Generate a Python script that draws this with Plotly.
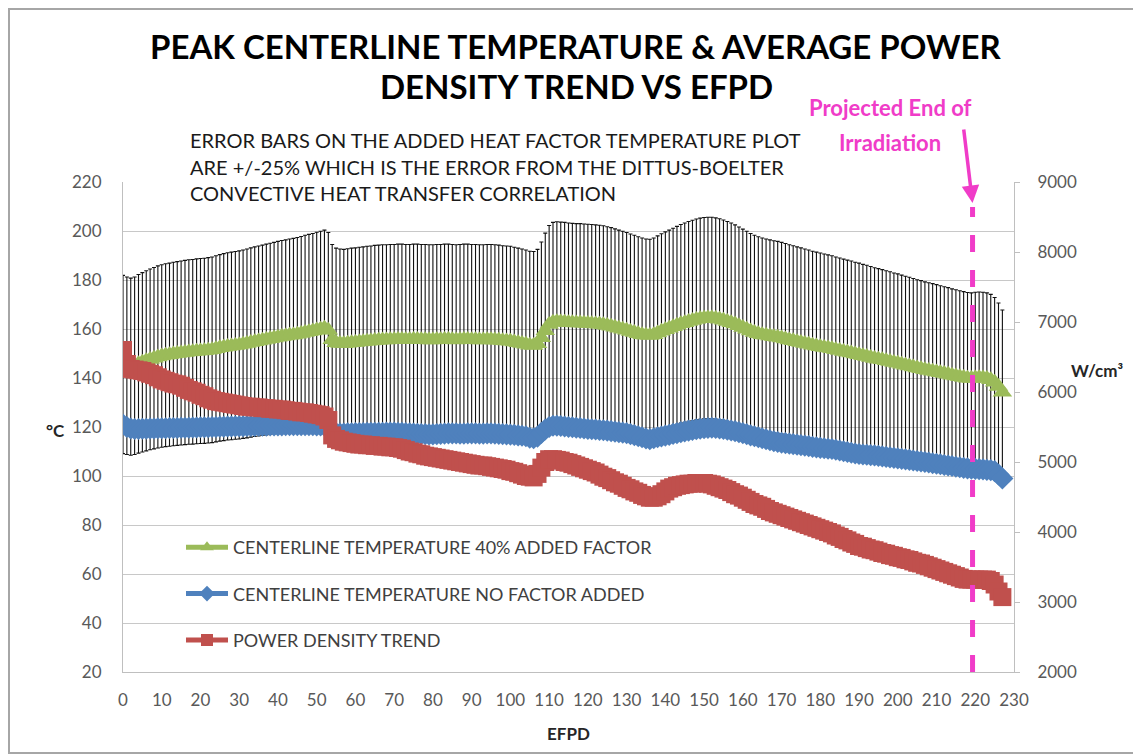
import plotly.graph_objects as go

# EFPD (one point per day)
efpd = list(range(0, 228))

# Centerline temperature with 40% added factor (deg C)
temp_40 = [
    145.5, 145.0, 144.6, 145.0, 145.8, 146.4, 147.0, 147.6, 148.1, 148.6,
    149.0, 149.3, 149.5, 149.8, 150.0, 150.2, 150.4, 150.6, 150.7, 150.9,
    151.0, 151.1, 151.3, 151.5, 151.9, 152.3, 152.6, 152.9, 153.1, 153.3,
    153.5, 153.8, 154.1, 154.5, 154.8, 155.1, 155.4, 155.7, 156.0, 156.3,
    156.6, 156.9, 157.1, 157.4, 157.6, 157.9, 158.2, 158.6, 158.9, 159.2,
    159.6, 159.9, 160.3, 159.5, 155.6, 154.4, 154.1, 154.0, 154.2, 154.4,
    154.5, 154.7, 154.8, 155.0, 155.1, 155.3, 155.4, 155.5, 155.5, 155.6,
    155.6, 155.7, 155.7, 155.6, 155.6, 155.7, 155.7, 155.6, 155.6, 155.5,
    155.5, 155.6, 155.6, 155.7, 155.7, 155.6, 155.5, 155.6, 155.7, 155.7,
    155.6, 155.6, 155.5, 155.5, 155.6, 155.6, 155.5, 155.4, 155.2, 155.1,
    155.0, 154.7, 154.4, 154.1, 153.8, 153.4, 153.3, 154.0, 156.4, 159.3,
    161.8, 162.8, 163.0, 162.9, 162.8, 162.6, 162.5, 162.4, 162.4, 162.3,
    162.2, 162.1, 162.0, 161.9, 161.7, 161.4, 161.1, 160.7, 160.3, 159.9,
    159.5, 159.0, 158.6, 158.1, 157.7, 157.4, 157.3, 157.7, 158.4, 159.1,
    159.7, 160.3, 160.9, 161.5, 162.1, 162.6, 163.1, 163.5, 163.9, 164.2,
    164.4, 164.5, 164.5, 164.3, 164.0, 163.6, 163.1, 162.6, 162.0, 161.3,
    160.6, 159.9, 159.2, 158.6, 158.1, 157.7, 157.4, 157.1, 156.8, 156.6,
    156.3, 155.9, 155.5, 155.2, 154.8, 154.5, 154.1, 153.8, 153.4, 153.1,
    152.8, 152.5, 152.2, 151.9, 151.5, 151.2, 150.8, 150.5, 150.2, 149.8,
    149.5, 149.1, 148.8, 148.4, 148.0, 147.7, 147.4, 147.0, 146.7, 146.3,
    146.0, 145.6, 145.2, 144.9, 144.5, 144.1, 143.8, 143.4, 143.1, 142.8,
    142.5, 142.1, 141.8, 141.5, 141.1, 140.8, 140.5, 140.2, 139.9, 139.8,
    140.0, 140.1, 140.0, 139.8, 139.3, 138.3, 136.5, 134.2,
]

# Centerline temperature, no factor added (deg C)
temp_nofactor = [
    121.0, 120.0, 119.4, 119.2, 119.2, 119.3, 119.3, 119.4, 119.4, 119.5,
    119.5, 119.5, 119.6, 119.6, 119.6, 119.7, 119.7, 119.7, 119.8, 119.8,
    119.9, 119.9, 119.9, 120.0, 120.0, 120.1, 120.1, 120.2, 120.2, 120.3,
    120.3, 120.3, 120.4, 120.4, 120.4, 120.5, 120.5, 120.5, 120.6, 120.6,
    120.6, 120.6, 120.7, 120.7, 120.7, 120.7, 120.7, 120.7, 120.7, 120.7,
    120.6, 120.6, 120.5, 119.8, 118.0, 117.5, 117.3, 117.3, 117.4, 117.4,
    117.5, 117.5, 117.5, 117.6, 117.6, 117.6, 117.6, 117.6, 117.7, 117.7,
    117.7, 117.6, 117.6, 117.5, 117.4, 117.3, 117.2, 117.1, 117.1, 117.0,
    117.0, 117.1, 117.2, 117.3, 117.4, 117.4, 117.4, 117.3, 117.3, 117.4,
    117.4, 117.4, 117.3, 117.3, 117.4, 117.4, 117.3, 117.2, 117.1, 117.0,
    116.9, 116.8, 116.6, 116.4, 116.2, 115.6, 115.4, 116.0, 117.6, 119.0,
    120.0, 120.5, 120.5, 120.4, 120.2, 120.0, 119.9, 119.7, 119.6, 119.4,
    119.2, 119.1, 119.0, 118.8, 118.7, 118.5, 118.3, 118.1, 117.9, 117.7,
    117.5, 117.1, 116.7, 116.2, 115.8, 115.3, 115.0, 115.4, 115.8, 116.1,
    116.5, 116.8, 117.2, 117.5, 117.9, 118.2, 118.5, 118.8, 119.1, 119.3,
    119.5, 119.6, 119.7, 119.6, 119.4, 119.2, 118.9, 118.6, 118.3, 117.9,
    117.5, 117.1, 116.6, 116.2, 115.8, 115.4, 115.0, 114.6, 114.2, 113.9,
    113.6, 113.4, 113.2, 113.0, 112.8, 112.6, 112.4, 112.2, 111.9, 111.7,
    111.5, 111.3, 111.1, 111.0, 110.7, 110.4, 110.1, 109.8, 109.5, 109.2,
    109.0, 108.8, 108.7, 108.5, 108.4, 108.2, 108.0, 107.8, 107.6, 107.4,
    107.2, 107.0, 106.8, 106.6, 106.3, 106.1, 105.9, 105.7, 105.5, 105.2,
    105.0, 104.8, 104.5, 104.3, 104.1, 103.8, 103.6, 103.3, 103.1, 103.0,
    102.9, 102.8, 102.7, 102.5, 102.4, 102.0, 100.6, 99.0,
]

# Average power density (W/cm3)
power_density = [
    6600, 6400, 6330, 6320, 6310, 6300, 6280, 6260, 6240, 6210,
    6180, 6160, 6140, 6120, 6110, 6090, 6060, 6030, 6010, 5990,
    5960, 5940, 5910, 5890, 5870, 5860, 5850, 5840, 5830, 5820,
    5810, 5800, 5790, 5790, 5780, 5780, 5770, 5770, 5760, 5760,
    5750, 5750, 5740, 5730, 5730, 5720, 5710, 5710, 5700, 5690,
    5680, 5670, 5650, 5600, 5380, 5330, 5310, 5290, 5280, 5270,
    5260, 5250, 5250, 5240, 5240, 5230, 5230, 5220, 5220, 5210,
    5210, 5200, 5190, 5170, 5150, 5140, 5120, 5110, 5090, 5080,
    5070, 5060, 5050, 5040, 5030, 5020, 5010, 5000, 4990, 4980,
    4970, 4960, 4950, 4950, 4940, 4930, 4920, 4910, 4900, 4890,
    4870, 4860, 4840, 4820, 4800, 4790, 4780, 4830, 4920, 5000,
    5040, 5040, 5030, 5020, 5000, 4990, 4970, 4950, 4930, 4910,
    4890, 4870, 4850, 4820, 4790, 4770, 4740, 4710, 4690, 4660,
    4630, 4610, 4580, 4560, 4530, 4510, 4490, 4490, 4510, 4540,
    4580, 4620, 4640, 4660, 4670, 4680, 4690, 4690, 4700, 4700,
    4700, 4690, 4680, 4660, 4640, 4620, 4600, 4570, 4540, 4520,
    4490, 4460, 4430, 4400, 4380, 4360, 4330, 4300, 4280, 4260,
    4240, 4220, 4200, 4180, 4160, 4140, 4120, 4100, 4080, 4060,
    4040, 4020, 4000, 3980, 3950, 3930, 3900, 3880, 3850, 3830,
    3800, 3790, 3770, 3750, 3740, 3720, 3700, 3690, 3670, 3660,
    3640, 3630, 3610, 3600, 3580, 3560, 3550, 3530, 3510, 3490,
    3470, 3450, 3430, 3410, 3390, 3370, 3350, 3330, 3320, 3320,
    3320, 3320, 3320, 3320, 3300, 3250, 3150, 3070,
]

error_percent = 25
end_of_irradiation = 219.3

x_ticks = list(range(0, 231, 10))
y_ticks = list(range(20, 221, 20))
y2_ticks = list(range(2000, 9001, 1000))

GREEN = "#9BBB59"
BLUE = "#4F81BD"
RED = "#C0504D"
MAGENTA = "#F03CC8"
FONT = "Lato, 'Open Sans', sans-serif"

fig = go.Figure()

fig.add_trace(go.Scatter(
    x=efpd, y=temp_40, name="CENTERLINE TEMPERATURE 40% ADDED FACTOR",
    legendgroup="g1", mode="lines+markers",
    line=dict(color=GREEN, width=3),
    marker=dict(symbol="triangle-up", size=17, color=GREEN),
    error_y=dict(type="percent", value=error_percent, color="#111111",
                 thickness=1.1, width=2),
))
fig.add_trace(go.Scatter(
    x=efpd, y=temp_nofactor, name="CENTERLINE TEMPERATURE NO FACTOR ADDED",
    legendgroup="g2", mode="lines+markers",
    line=dict(color=BLUE, width=3),
    marker=dict(symbol="diamond", size=17, color=BLUE),
))
fig.add_trace(go.Scatter(
    x=efpd, y=power_density, name="POWER DENSITY TREND", yaxis="y2",
    legendgroup="g3", mode="lines+markers",
    line=dict(color=RED, width=3),
    marker=dict(symbol="square", size=18, color=RED),
))

# The page body adds an 8px margin; figure coordinates = page coordinates - OFF
OFF = 8
W, H = 1141 - OFF, 756 - OFF
L, R, T, B = 123 - OFF, 1014 - OFF, 182 - OFF, 672 - OFF
pw, ph = R - L, B - T


def px(xp):
    """page x pixel -> paper coordinate"""
    return (xp - OFF - L) / pw


def py(yp):
    """page y pixel -> paper coordinate"""
    return (B - (yp - OFF)) / ph


annotations = [
    dict(text="<b>PEAK CENTERLINE TEMPERATURE & AVERAGE POWER</b>", x=px(576), y=py(46),
         font=dict(size=33, color="#000000")),
    dict(text="<b>DENSITY TREND VS EFPD</b>", x=px(576), y=py(86),
         font=dict(size=33, color="#000000")),
    dict(text="ERROR BARS ON THE ADDED HEAT FACTOR TEMPERATURE PLOT", x=px(188), y=py(140),
         xanchor="left", font=dict(size=20, color="#1a1a1a")),
    dict(text="ARE +/-25% WHICH IS THE ERROR FROM THE DITTUS-BOELTER", x=px(188), y=py(167),
         xanchor="left", font=dict(size=20, color="#1a1a1a")),
    dict(text="CONVECTIVE HEAT TRANSFER CORRELATION", x=px(188), y=py(193),
         xanchor="left", font=dict(size=20, color="#1a1a1a")),
    dict(text="<b>Projected End of</b>", x=px(890), y=py(108),
         font=dict(size=22, color=MAGENTA)),
    dict(text="<b>Irradiation</b>", x=px(890), y=py(143),
         font=dict(size=22, color=MAGENTA)),
    dict(text="<b>°C</b>", x=px(55), y=py(430), font=dict(size=17, color="#262626")),
    dict(text="<b>W/cm³</b>", x=px(1097), y=py(370), font=dict(size=17, color="#262626")),
    dict(text="<b>EFPD</b>", x=px(568), y=py(733), font=dict(size=17, color="#262626")),
]
for a in annotations:
    a.setdefault("xanchor", "center")
    a.update(xref="paper", yref="paper", yanchor="middle", showarrow=False)

annotations.append(dict(
    x=end_of_irradiation, xref="x", y=py(203), yref="paper", text="",
    showarrow=True, arrowhead=2, arrowsize=1, arrowwidth=3.5, arrowcolor=MAGENTA,
    ax=-9, ay=-75,
))

shapes = [
    dict(type="line", xref="x", yref="paper", x0=end_of_irradiation, x1=end_of_irradiation,
         y0=0, y1=py(207), line=dict(color=MAGENTA, width=5, dash="17px,18px"), layer="above"),
    dict(type="rect", xref="paper", yref="paper", x0=px(OFF + 1), x1=px(1137), y0=py(753),
         y1=py(OFF + 1), line=dict(color="#A6A6A6", width=2), layer="below"),
]

fig.update_layout(
    width=W, height=H,
    margin=dict(l=L, r=W - R, t=T, b=H - B),
    paper_bgcolor="white", plot_bgcolor="white",
    font=dict(family=FONT, color="#595959", size=17),
    showlegend=True,
    legend=dict(x=px(181), y=py(529), xanchor="left", yanchor="top",
                bgcolor="rgba(0,0,0,0)", font=dict(size=18, color="#404040"),
                itemwidth=42, tracegroupgap=20, itemsizing="constant"),
    xaxis=dict(range=[0, 230], tickvals=x_ticks, showgrid=False, zeroline=False,
               showline=True, linecolor="#BFBFBF", linewidth=1, ticks="",
               ticklabelstandoff=13, tickfont=dict(size=17, color="#595959")),
    yaxis=dict(range=[20, 220], tickvals=y_ticks, showgrid=True, gridcolor="#C8C8C8",
               gridwidth=1, zeroline=False, showline=True, linecolor="#BFBFBF",
               ticks="", ticklabelstandoff=17, tickfont=dict(size=17, color="#595959")),
    yaxis2=dict(range=[2000, 9000], tickvals=y2_ticks, overlaying="y", side="right",
                showgrid=False, zeroline=False, showline=True, linecolor="#BFBFBF",
                ticks="outside", ticklen=5, tickcolor="#BFBFBF", ticklabelstandoff=14,
                tickfont=dict(size=17, color="#595959")),
    annotations=annotations,
    shapes=shapes,
)

fig.write_html("out.html")
